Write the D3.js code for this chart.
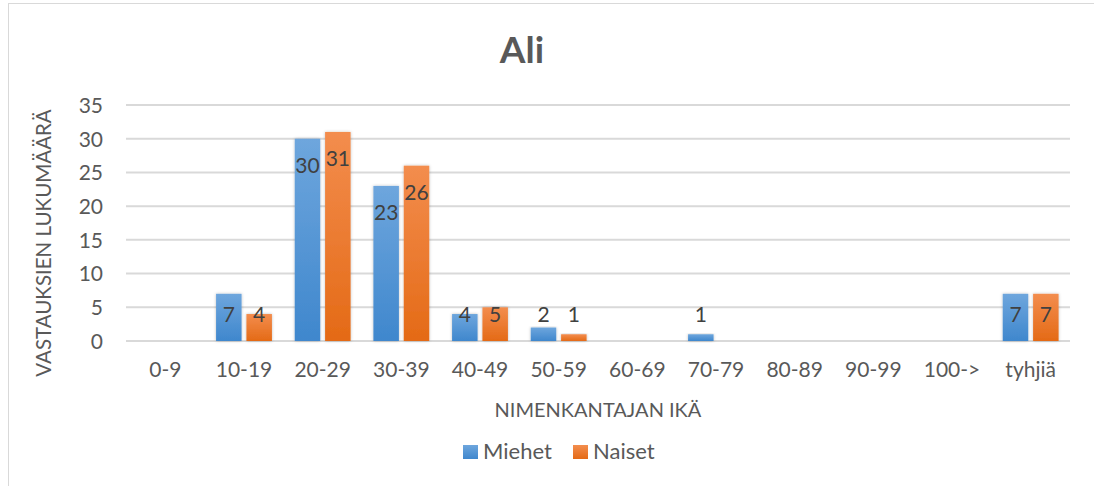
<!DOCTYPE html>
<html><head><meta charset="utf-8">
<script src="https://cdnjs.cloudflare.com/ajax/libs/d3/7.8.5/d3.min.js"></script>
<style>body{margin:0;background:#fff}svg{display:block}text{font-family:Lato,"Open Sans",sans-serif}</style>
</head><body><svg id="c" width="1094" height="486"></svg>
<script>
const categories = ["0-9","10-19","20-29","30-39","40-49","50-59","60-69","70-79","80-89","90-99","100->","tyhjiä"];
const miehet = [0,7,30,23,4,2,0,1,0,0,0,7];
const naiset = [0,4,31,26,5,1,0,0,0,0,0,7];
const seriesNames = ["Miehet","Naiset"];
const yTicks = [0,5,10,15,20,25,30,35];

(function(){
const svg = d3.select("#c");
svg.append("rect").attr("x",8.5).attr("y",3.5).attr("width",1100).attr("height",500).attr("fill","#fff").attr("stroke","#d9d9d9");
const defs = svg.append("defs");
const gradCols = [["#6ea6dd","#3f87cd"],["#f38d4e","#e46a16"]];
gradCols.forEach((c,i)=>{
  const g=defs.append("linearGradient").attr("id","g"+i).attr("x1",0).attr("x2",0).attr("y1",0).attr("y2",1);
  g.append("stop").attr("offset","0%").attr("stop-color",c[0]);
  g.append("stop").attr("offset","100%").attr("stop-color",c[1]);
});
const f=defs.append("filter").attr("id","sh").attr("x","-30%").attr("y","-10%").attr("width","160%").attr("height","130%");
f.append("feDropShadow").attr("dx",0).attr("dy",0).attr("stdDeviation",1.5).attr("flood-color","#000").attr("flood-opacity",0.25);

const pL=126,pR=1070,pT=105,pB=341;
const x=d3.scaleBand().domain(categories).range([pL,pR]).paddingInner(0.29).paddingOuter(0.145);
const xs=d3.scaleBand().domain(seriesNames).range([0,x.bandwidth()]).paddingInner(0.16);
const y=d3.scaleLinear().domain([0,35]).range([pB,pT]);

svg.append("g").selectAll("line").data(yTicks).join("line")
  .attr("x1",pL).attr("x2",pR).attr("y1",d=>y(d)).attr("y2",d=>y(d))
  .attr("stroke","#d9d9d9").attr("stroke-width",2);

const ya=svg.append("g").attr("transform",`translate(${pL-8},0)`).call(d3.axisLeft(y).tickValues(yTicks).tickSize(0).tickPadding(15));
ya.select(".domain").remove();
ya.selectAll("text").attr("font-size",21).attr("fill","#595959").attr("font-family","Lato,sans-serif").attr("dy","0.35em");

const xa=svg.append("g").attr("transform",`translate(0,${pB})`).call(d3.axisBottom(x).tickSize(0).tickPadding(21));
xa.select(".domain").remove();
xa.selectAll("text").attr("font-size",21).attr("fill","#595959").attr("font-family","Lato,sans-serif");

const data=categories.map((c,i)=>({c,vals:[miehet[i],naiset[i]]}));
const grp=svg.append("g").selectAll("g").data(data).join("g").attr("transform",d=>`translate(${x(d.c)},0)`);
grp.selectAll("rect").data(d=>d.vals.map((v,j)=>({v,s:seriesNames[j],j})).filter(d=>d.v>0)).join("rect")
  .attr("x",d=>xs(d.s)).attr("width",xs.bandwidth())
  .attr("y",d=>y(d.v)).attr("height",d=>y(0)-y(d.v))
  .attr("fill",d=>`url(#g${d.j})`).attr("filter","url(#sh)");
grp.selectAll("text.lbl").data(d=>d.vals.map((v,j)=>({v,s:seriesNames[j],j})).filter(d=>d.v>0)).join("text")
  .attr("class","lbl")
  .attr("x",d=>xs(d.s)+xs.bandwidth()/2)
  .attr("y",d=>Math.min(y(d.v)+27,315))
  .attr("dy","0.35em").attr("text-anchor","middle")
  .attr("font-size",21).attr("fill","#404040").text(d=>d.v);

svg.append("text").attr("x",522).attr("y",63).attr("text-anchor","middle").attr("font-size",37).attr("font-weight","bold").attr("fill","#595959").text("Ali");
svg.append("text").attr("x",598).attr("y",417).attr("text-anchor","middle").attr("font-size",20).attr("fill","#595959").text("NIMENKANTAJAN IKÄ");
svg.append("text").attr("transform","translate(51,243) rotate(-90)").attr("text-anchor","middle").attr("font-size",20.5).attr("fill","#595959").text("VASTAUKSIEN LUKUMÄÄRÄ");

const lx=[463,573];
seriesNames.forEach((s,i)=>{
  svg.append("rect").attr("x",lx[i]).attr("y",445).attr("width",15).attr("height",14).attr("fill",`url(#g${i})`);
  svg.append("text").attr("x",lx[i]+20).attr("y",459).attr("font-size",22).attr("fill","#595959").text(s);
});
})();
</script></body></html>
